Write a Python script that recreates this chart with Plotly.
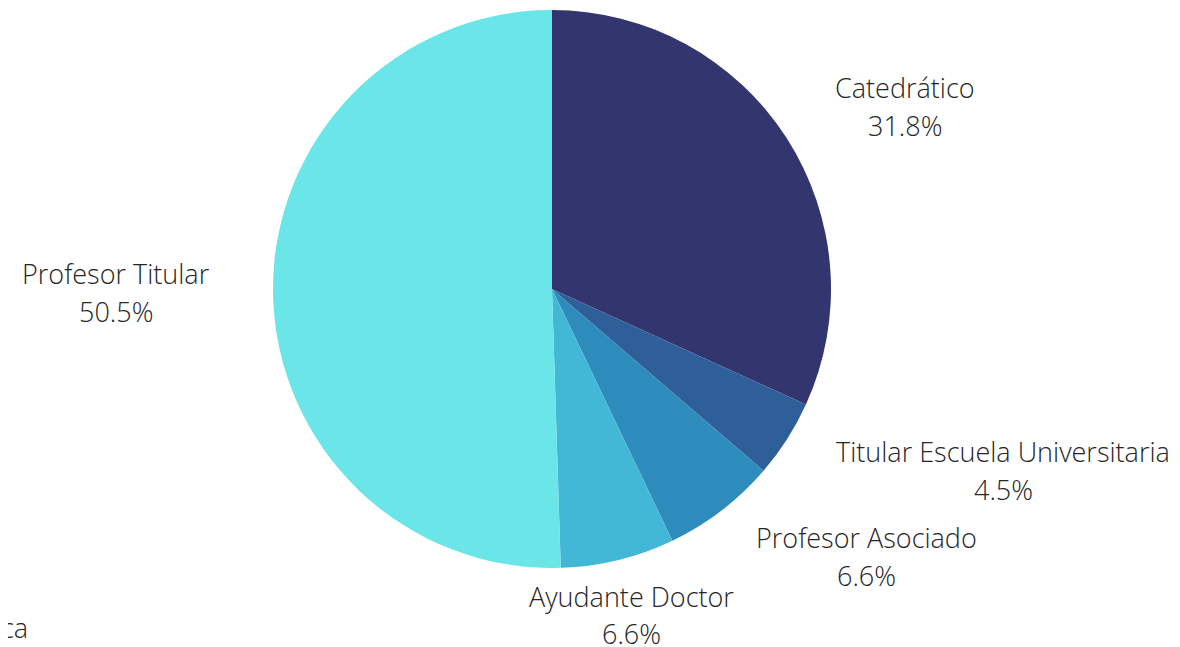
import plotly.graph_objects as go

categories = ['Catedrático', 'Titular Escuela Universitaria', 'Profesor Asociado',
              'Ayudante Doctor', 'Profesor Titular']
percent = [31.8, 4.5, 6.6, 6.6, 50.5]
colors = ['#32356E', '#2E5F99', '#2D8CBB', '#42B7D6', '#6AE5E8']

# page has an 8px body margin, so the figure is a little smaller than the window
OFF = 8
W, H = 1180 - OFF, 647 - OFF
L, R, T, B = 0, 84, 2, 79
pw, ph = W - L - R, H - T - B

# label positions in page pixels (name line, percent line below)
label_px = [(905, 87), (1003, 451), (866, 537), (631, 596), (116, 273)]
line_gap = 38


def to_paper(x, y):
    x, y = x - OFF, y - OFF
    return (x - L) / pw, (H - B - y) / ph


fig = go.Figure()
fig.add_trace(go.Pie(
    labels=categories, values=percent,
    marker=dict(colors=colors, line=dict(width=0)),
    sort=False, direction='clockwise', rotation=0,
    textinfo='none', hoverinfo='label+percent',
    showlegend=False,
))

font = dict(family='Open Sans', size=27, color='#262626', weight=300)
ann = []
for name, val, (x, y) in zip(categories, percent, label_px):
    px_, py_ = to_paper(x, y)
    ann.append(dict(x=px_, y=py_, xref='paper', yref='paper', text=name,
                    showarrow=False, xanchor='center', yanchor='middle', font=font))
    px_, py_ = to_paper(x, y + line_gap)
    ann.append(dict(x=px_, y=py_, xref='paper', yref='paper', text=f'{val}%',
                    showarrow=False, xanchor='center', yanchor='middle', font=font))

# text cut off at the left edge, bottom corner (only "ca" stays visible)
cx, cy = to_paper(30, 627)
ann.append(dict(x=cx, y=cy, xref='paper', yref='paper', text='Categoría Académica',
                showarrow=False, xanchor='right', yanchor='middle', font=font))

fig.update_layout(
    width=W, height=H,
    margin=dict(l=L, r=R, t=T, b=B),
    paper_bgcolor='white', plot_bgcolor='white',
    annotations=ann,
)

fig.write_html('out.html')
